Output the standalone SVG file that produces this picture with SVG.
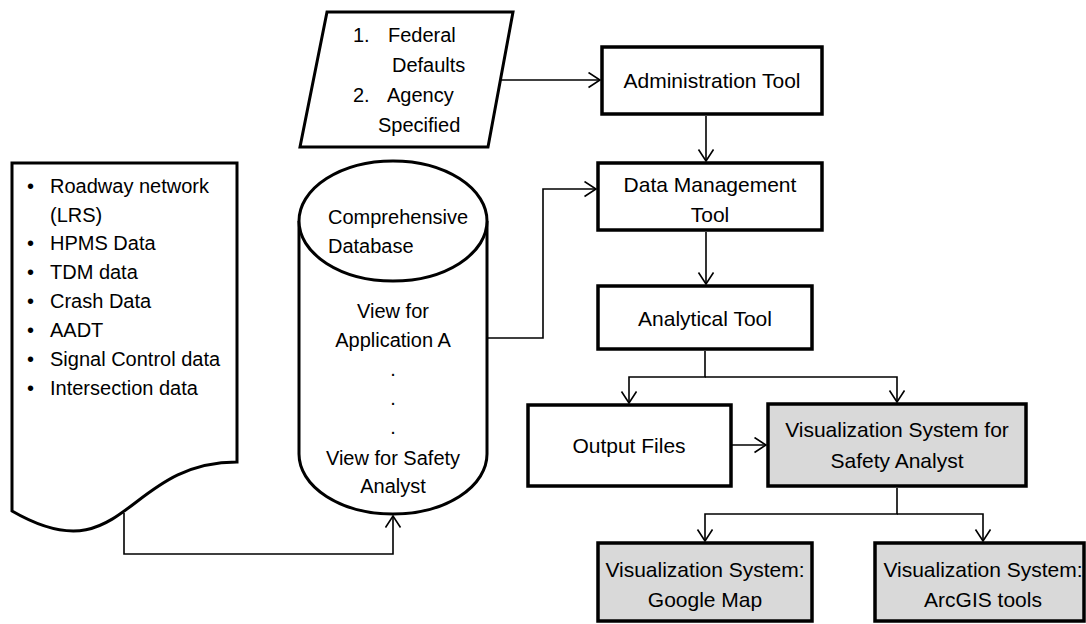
<svg xmlns="http://www.w3.org/2000/svg" width="1086" height="624" viewBox="0 0 1086 624">
<style>
.box{fill:#fff;stroke:#000;stroke-width:3.5}
.grey{fill:#d9d9d9;stroke:#000;stroke-width:3.5}
.shape{fill:#fff;stroke:#000;stroke-width:3}
.t{font-family:"Liberation Sans",Arial,sans-serif;font-size:21px;fill:#000}
.s{font-family:"Liberation Sans",Arial,sans-serif;font-size:20px;fill:#000}
.m{text-anchor:middle}
.conn{fill:none;stroke:#000;stroke-width:1.6}
</style>
<defs>
<marker id="arr" markerWidth="14" markerHeight="18" refX="12" refY="8" orient="auto" markerUnits="userSpaceOnUse">
<path d="M0.5,0.5 L12,8 L0.5,15.5" fill="none" stroke="#000" stroke-width="1.6"/>
</marker>
</defs>
<g id="connectors">
<path class="conn" d="M501,80 H600" marker-end="url(#arr)"/>
<path class="conn" d="M706,116 V161" marker-end="url(#arr)"/>
<path class="conn" d="M487,338 H543 V189 H596" marker-end="url(#arr)"/>
<path class="conn" d="M706,232 V284" marker-end="url(#arr)"/>
<path class="conn" d="M705,351 V377 H629 V403" marker-end="url(#arr)"/>
<path class="conn" d="M705,377 H897 V402" marker-end="url(#arr)"/>
<path class="conn" d="M731,445 H766" marker-end="url(#arr)"/>
<path class="conn" d="M897,488 V514 H705 V541" marker-end="url(#arr)"/>
<path class="conn" d="M897,514 H983 V541" marker-end="url(#arr)"/>
<path class="conn" d="M124,513 V554 H393 V516" marker-end="url(#arr)"/>
</g>
<g id="data-sources">
<path class="shape" d="M12,163 H237 V462 C124.5,462 124.5,576 12,511 Z"/>
<text class="s" x="27" y="193">•</text><text class="s" x="50" y="193">Roadway network</text>
<text class="s" x="50" y="222">(LRS)</text>
<text class="s" x="27" y="250">•</text><text class="s" x="50" y="250">HPMS Data</text>
<text class="s" x="27" y="279">•</text><text class="s" x="50" y="279">TDM data</text>
<text class="s" x="27" y="308">•</text><text class="s" x="50" y="308">Crash Data</text>
<text class="s" x="27" y="337">•</text><text class="s" x="50" y="337">AADT</text>
<text class="s" x="27" y="366">•</text><text class="s" x="50" y="366">Signal Control data</text>
<text class="s" x="27" y="395">•</text><text class="s" x="50" y="395">Intersection data</text>
</g>
<g id="defaults">
<path class="shape" d="M327,12 H513 L488,147 H300 Z"/>
<text class="s" x="353" y="42">1.</text><text class="s" x="388" y="42">Federal</text>
<text class="s" x="392" y="72">Defaults</text>
<text class="s" x="353" y="102">2.</text><text class="s" x="387" y="102">Agency</text>
<text class="s" x="378" y="132">Specified</text>
</g>
<g id="database">
<path class="shape" d="M299,221 V454 A94,60 0 0 0 487,454 V221"/>
<ellipse class="shape" cx="393" cy="221" rx="94" ry="60"/>
<text class="s" x="328" y="224">Comprehensive</text>
<text class="s" x="328" y="253">Database</text>
<text class="s m" x="393" y="318">View for</text>
<text class="s m" x="393" y="347">Application A</text>
<text class="s m" x="393" y="376">.</text>
<text class="s m" x="393" y="405">.</text>
<text class="s m" x="393" y="434">.</text>
<text class="s m" x="393" y="465">View for Safety</text>
<text class="s m" x="393" y="493">Analyst</text>
</g>
<g id="admin-tool">
<rect class="box" x="602" y="47" width="220" height="67"/>
<text class="t m" x="712" y="88">Administration Tool</text>
</g>
<g id="data-management-tool">
<rect class="box" x="598" y="163" width="224" height="67"/>
<text class="t m" x="710" y="192">Data Management</text>
<text class="t m" x="710" y="222">Tool</text>
</g>
<g id="analytical-tool">
<rect class="box" x="598" y="286" width="214" height="63"/>
<text class="t m" x="705" y="326">Analytical Tool</text>
</g>
<g id="output-files">
<rect class="box" x="528" y="405" width="203" height="81"/>
<text class="t m" x="629" y="453">Output Files</text>
</g>
<g id="vis-safety">
<rect class="grey" x="768" y="404" width="258" height="82"/>
<text class="t m" x="897" y="437">Visualization System for</text>
<text class="t m" x="897" y="468">Safety Analyst</text>
</g>
<g id="vis-google">
<rect class="grey" x="598" y="543" width="214" height="78"/>
<text class="t m" x="705" y="577">Visualization System:</text>
<text class="t m" x="705" y="607">Google Map</text>
</g>
<g id="vis-arcgis">
<rect class="grey" x="875" y="543" width="209" height="78"/>
<text class="t m" x="983" y="577">Visualization System:</text>
<text class="t m" x="983" y="607">ArcGIS tools</text>
</g>
</svg>
